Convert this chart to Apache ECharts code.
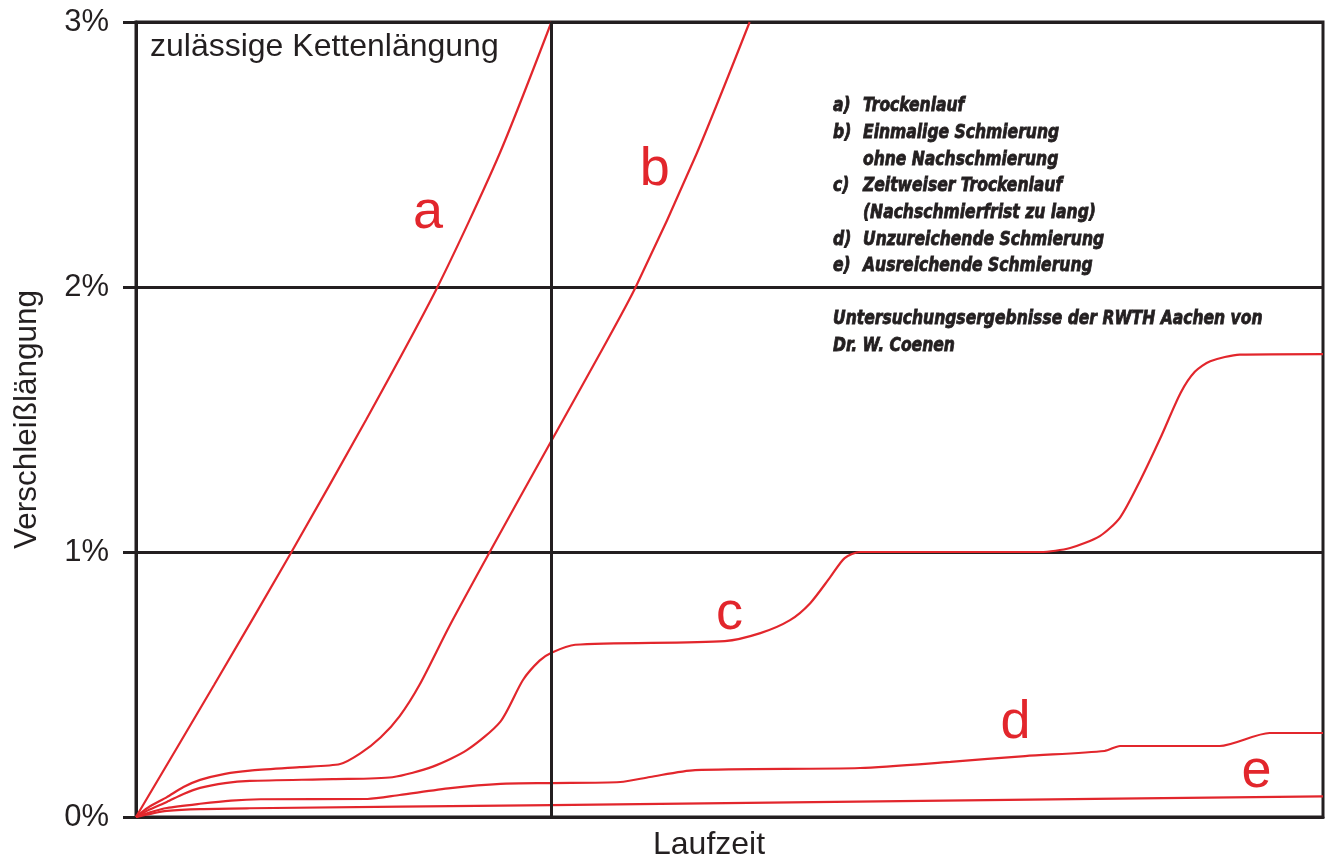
<!DOCTYPE html>
<html>
<head>
<meta charset="utf-8">
<script src="https://cdn.jsdelivr.net/npm/echarts@6/dist/echarts.min.js"></script>
<style>
  html, body { margin: 0; padding: 0; background: #fff; }
  #chart { width: 1328px; height: 863px; }
</style>
</head>
<body>
<div id="chart"></div>
<script>
// ---- data (x: Laufzeit 0..100, y: Verschleißlängung in %) ----
const curveA = [[0,0],[6.6,0.5],[13.1,1.0],[19.4,1.5],[25.4,2.0],[30.6,2.5],[35.0,3.0]];
const curveB = [[0,0],[1.0,0.035],[2.6,0.075],[4.0,0.113],[5.4,0.14],[7.5,0.163],[9.6,0.175],[13.8,0.188],[17.2,0.2],[18.9,0.24],[20.6,0.3],[22.2,0.38],[23.9,0.5],[26.4,0.72],[29.8,1.0],[35.0,1.42],[39.1,1.75],[42.1,2.0],[47.2,2.5],[51.7,3.0]];
const curveC = [[0,0],[1.0,0.025],[2.6,0.057],[4.0,0.087],[5.4,0.11],[7.5,0.128],[9.6,0.136],[16.6,0.143],[21.6,0.15],[25.0,0.19],[27.9,0.253],[30.7,0.36],[32.6,0.517],[34.0,0.59],[35.0,0.62],[37.0,0.65],[49.6,0.664],[52.6,0.694],[55.1,0.743],[56.8,0.807],[58.5,0.906],[59.7,0.977],[61.0,1.0],[76.2,1.0],[78.7,1.015],[81.2,1.06],[82.9,1.13],[84.6,1.27],[86.3,1.43],[88.0,1.6],[89.2,1.68],[90.5,1.72],[93.0,1.745],[100,1.747]];
const curveD = [[0,0],[1.2,0.018],[2.6,0.034],[5.4,0.05],[8.0,0.062],[10.5,0.067],[19.5,0.068],[22.2,0.083],[26.5,0.109],[30.7,0.125],[35.0,0.128],[40.8,0.132],[43.3,0.151],[47.1,0.177],[61.0,0.185],[68.6,0.208],[74.9,0.23],[81.6,0.249],[82.9,0.268],[91.3,0.268],[95.5,0.317],[100,0.317]];
const curveE = [[0,0],[1.2,0.012],[2.6,0.023],[5.4,0.03],[9.6,0.033],[35.0,0.045],[64.4,0.06],[100,0.078]];
const curveLabels = [[24.6,2.28,'a'],[43.7,2.44,'b'],[50.0,0.765,'c'],[74.1,0.355,'d'],[94.4,0.17,'e']];
const verticalMark = 35;
const yTicks = [0, 1, 2, 3];
const legendItems = [
  ['a)', 'Trockenlauf'],
  ['b)', 'Einmalige Schmierung'],
  ['', 'ohne Nachschmierung'],
  ['c)', 'Zeitweiser Trockenlauf'],
  ['', '(Nachschmierfrist zu lang)'],
  ['d)', 'Unzureichende Schmierung'],
  ['e)', 'Ausreichende Schmierung']
];
const sourceLines = ['Untersuchungsergebnisse der RWTH Aachen von', 'Dr. W. Coenen'];
const titleText = 'zulässige Kettenlängung';
const xName = 'Laufzeit';
const yName = 'Verschleißlängung';

// ---- chart ----
const RED = '#e2262c';
const INK = '#231f20';
const FONT = "'Liberation Sans', Arial, Helvetica, sans-serif";
const NARROW = "'DejaVu Sans Condensed', 'Liberation Sans Narrow', 'Liberation Sans', sans-serif";
const NFONT = `italic bold 20px ${NARROW}`;
const SX = 0.865;

function curve(name, data) {
  return {
    name, type: 'line', data, smooth: 0.25,
    showSymbol: false, symbol: 'none', clip: true,
    lineStyle: { color: RED, width: 2.2 }, z: 3
  };
}

const chart = echarts.init(document.getElementById('chart'), null, { renderer: 'canvas' });

const nStyle = t => ({ text: t, font: NFONT, fill: INK, stroke: INK, lineWidth: 0.8 });
const legendGraphics = [];
legendItems.forEach((it, i) => {
  const y = 96 + i * 26.7;
  if (it[0]) legendGraphics.push({ type: 'text', x: 833, y, scaleX: SX, style: nStyle(it[0]) });
  legendGraphics.push({ type: 'text', x: 863, y, scaleX: SX, style: nStyle(it[1]) });
});
sourceLines.forEach((t, i) => {
  legendGraphics.push({ type: 'text', x: 833, y: 309 + i * 27, scaleX: SX, style: nStyle(t) });
});

chart.setOption({
  animation: false,
  backgroundColor: '#fff',
  grid: { left: 136, right: 5, top: 22, bottom: 46, show: true, borderColor: INK, borderWidth: 3, backgroundColor: 'transparent' },
  xAxis: {
    type: 'value', min: 0, max: 100,
    axisLine: { show: true, lineStyle: { color: INK, width: 3 } },
    axisTick: { show: false }, axisLabel: { show: false }, splitLine: { show: false }
  },
  yAxis: {
    type: 'value', min: yTicks[0], max: yTicks[yTicks.length - 1], interval: 1,
    axisLine: { show: true, lineStyle: { color: INK, width: 3 } },
    axisTick: { show: true, length: 13, lineStyle: { color: INK, width: 3 } },
    axisLabel: { formatter: '{value}%', fontSize: 31, color: INK, fontFamily: FONT, margin: 27 },
    splitLine: { show: true, lineStyle: { color: INK, width: 3 } },
    name: yName, nameLocation: 'middle', nameGap: 93, nameRotate: 90,
    nameTextStyle: { fontSize: 31.5, color: INK, fontFamily: FONT }
  },
  series: [
    curve('a', curveA), curve('b', curveB), curve('c', curveC), curve('d', curveD), curve('e', curveE),
    {
      type: 'scatter', data: curveLabels, symbolSize: 0, itemStyle: { color: RED, opacity: 1 }, z: 4,
      label: {
        show: true, position: [0, 0], align: 'center', verticalAlign: 'middle',
        formatter: p => p.data[2], fontSize: 54, color: RED, fontFamily: FONT,
        textBorderWidth: 0, opacity: 1
      },
      markLine: {
        silent: true, symbol: 'none', label: { show: false },
        lineStyle: { color: INK, width: 3, type: 'solid' },
        data: [{ xAxis: verticalMark }]
      }
    }
  ],
  graphic: [
    { type: 'text', left: 150, top: 31, style: { text: titleText, font: `32px ${FONT}`, fill: INK } },
    { type: 'text', left: 653, top: 829, style: { text: xName, font: `32px ${FONT}`, fill: INK } },
    ...legendGraphics
  ]
});
</script>
</body>
</html>
